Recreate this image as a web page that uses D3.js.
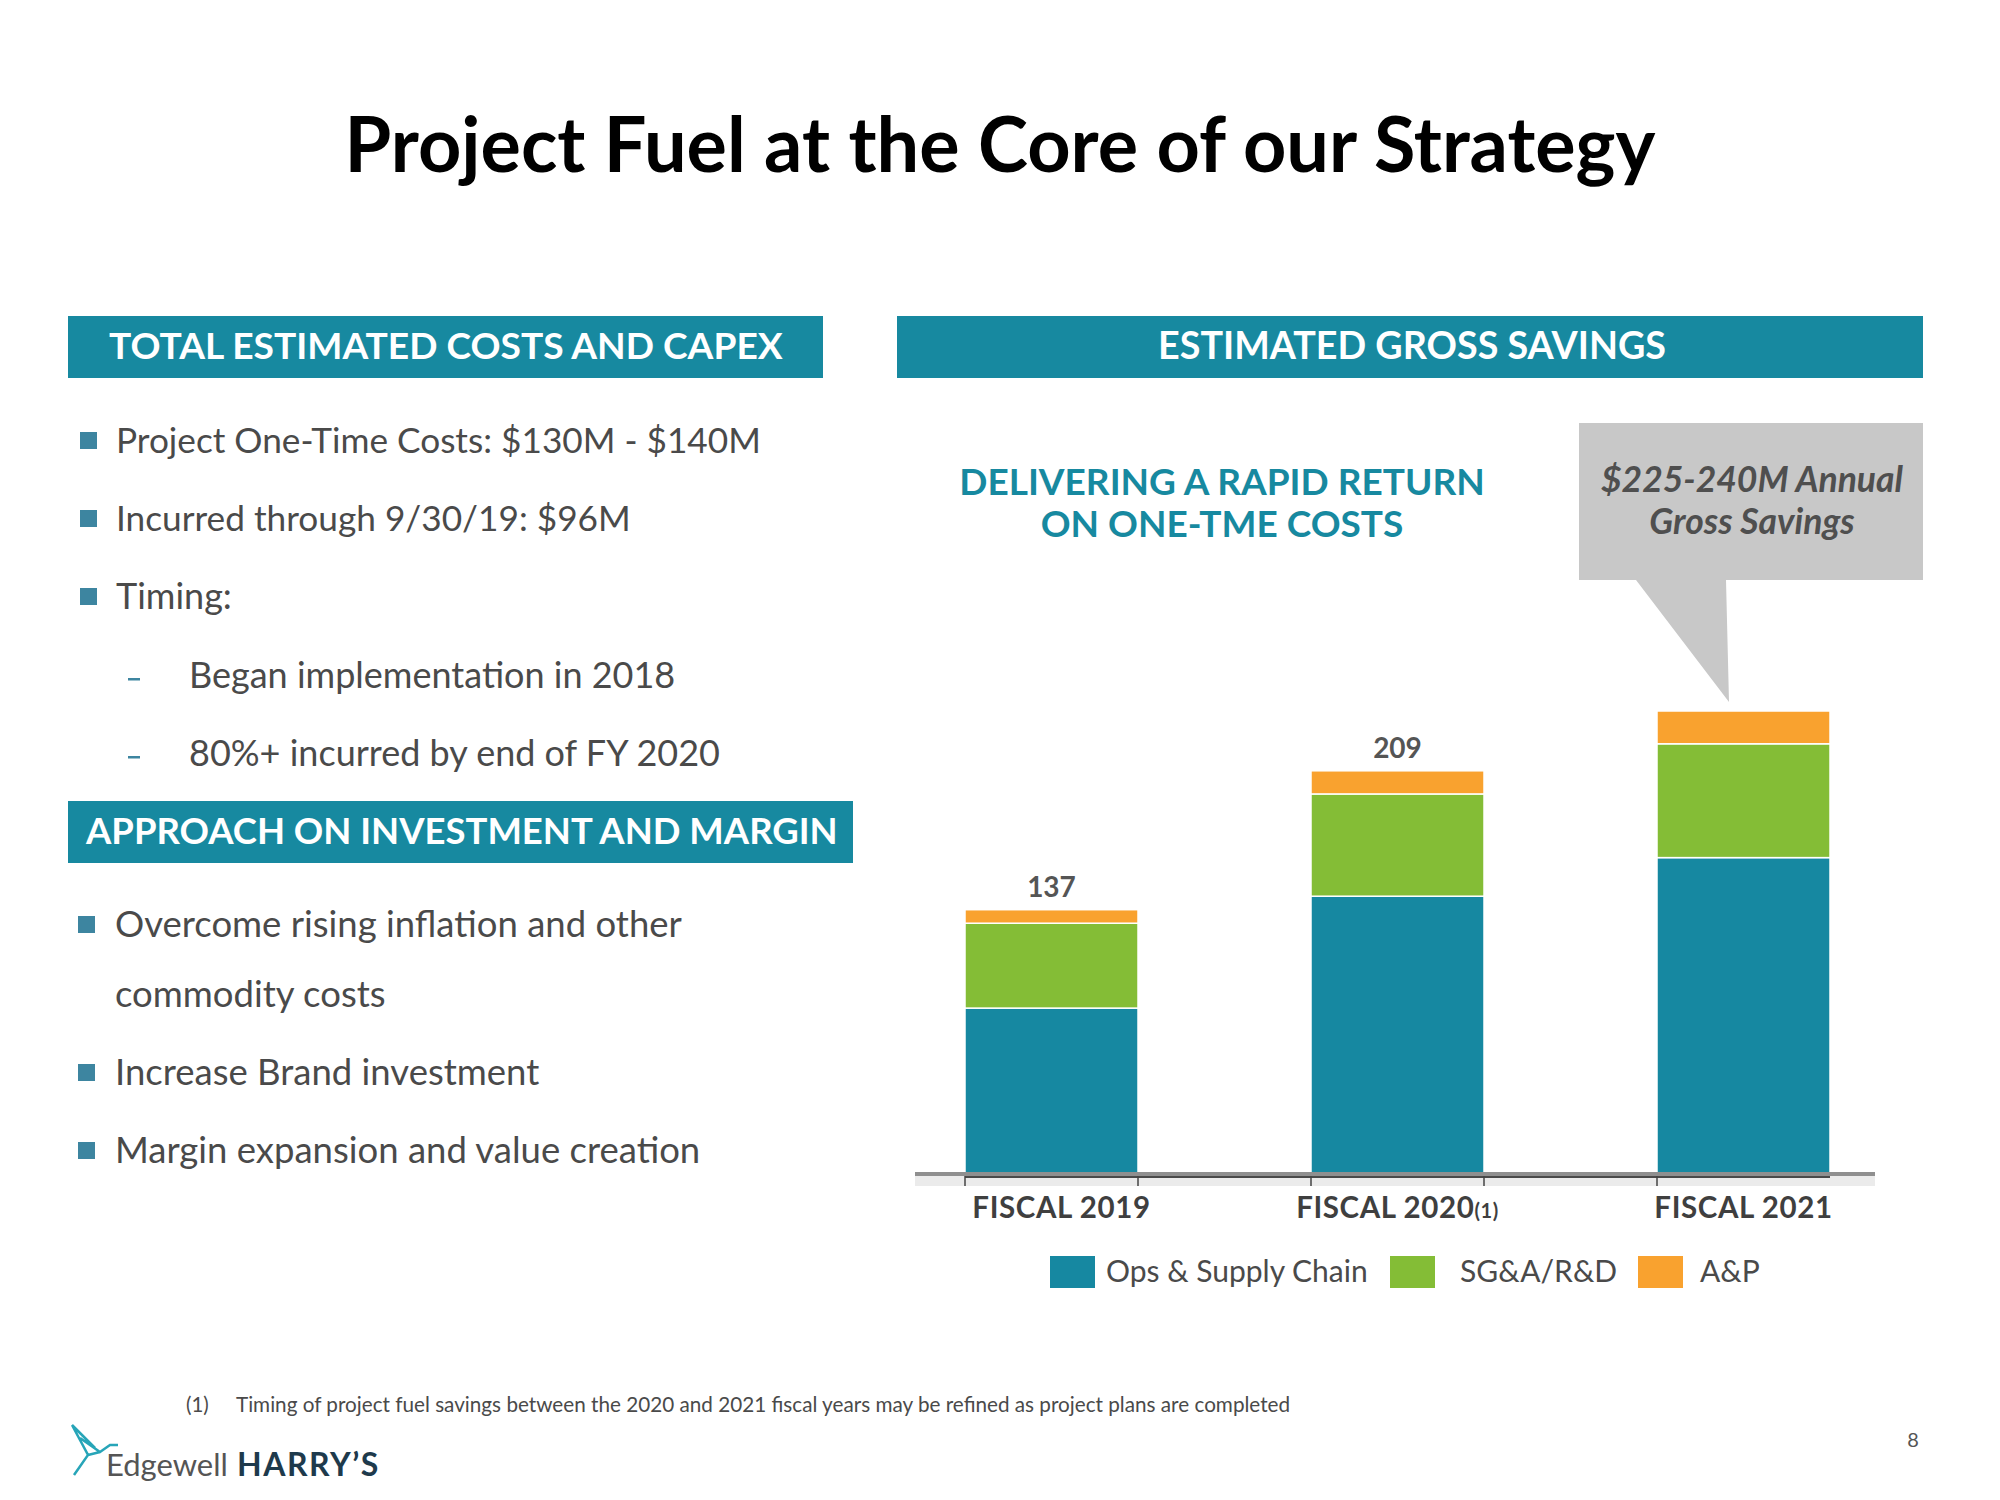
<!DOCTYPE html>
<html><head><meta charset="utf-8">
<script src="https://cdn.jsdelivr.net/npm/d3@7"></script>
<style>body{margin:0;background:#fff}svg{display:block}</style>
</head><body>
<svg id="c" width="2000" height="1500"></svg>
<script>
// ---- data ----
const categories = ["FISCAL 2019", "FISCAL 2020", "FISCAL 2021"];
const categoryNotes = ["", "(1)", ""];
const seriesNames = ["Ops & Supply Chain", "SG&A/R&D", "A&P"];
const opsSupply = [86, 144, 164];
const sgaRd = [44, 53, 59];
const aAndP = [7, 12, 17];
const totalLabels = ["137", "209", ""];
const colors = ["#1688A1", "#84BD36", "#F9A22F"];

const leftBullets1 = ["Project One-Time Costs: $130M - $140M", "Incurred through 9/30/19:  $96M", "Timing:"];
const subBullets = ["Began implementation in 2018", "80%+ incurred by end of FY 2020"];
const leftBullets2 = [["Overcome rising inflation and other", "commodity costs"], ["Increase Brand investment"], ["Margin expansion and value creation"]];

const svg = d3.select("#c");
const TEAL = "#1789A0", GRAY = "#4A4A4A", FONT = "Lato, 'Open Sans', sans-serif";

function fit(t, w){ // scale font so text width = w
  const cur = t.node().getComputedTextLength();
  const fs = parseFloat(t.attr("font-size"));
  t.attr("font-size", fs * w / cur);
  return t;
}

// title
fit(svg.append("text").attr("x", 1000).attr("y", 172).attr("text-anchor", "middle")
  .attr("font-family", FONT).attr("font-weight", 700).attr("font-size", 72).attr("fill", "#000")
  .text("Project Fuel at the Core of our Strategy"), 1311);

// header bars
function header(x, y, w, h, txt, anchor, tx, tw){
  svg.append("rect").attr("x", x).attr("y", y).attr("width", w).attr("height", h).attr("fill", TEAL);
  const t = svg.append("text").attr("x", tx).attr("y", y + h/2 + 12).attr("text-anchor", anchor)
    .attr("font-family", FONT).attr("font-weight", 700).attr("font-size", 33).attr("fill", "#fff").text(txt);
  fit(t, tw);
}
header(68, 316, 755, 62, "TOTAL ESTIMATED COSTS AND CAPEX", "start", 109, 674);
header(897, 316, 1026, 62, "ESTIMATED GROSS SAVINGS", "middle", 1412, 508);
header(68, 801, 785, 62, "APPROACH ON INVESTMENT AND MARGIN", "start", 86, 752);

// left bullets
const bw1 = [645, 515, 0];
leftBullets1.forEach((s, i) => {
  const cy = 441 + i * 78;
  svg.append("rect").attr("x", 80).attr("y", cy - 9).attr("width", 17).attr("height", 17).attr("fill", "#3D85A0");
  const t = svg.append("text").attr("x", 116).attr("y", cy + 12).attr("font-family", FONT)
    .attr("font-size", 36).attr("fill", GRAY).text(s);
  if (bw1[i]) fit(t, bw1[i]);
});
subBullets.forEach((s, i) => {
  const cy = 676 + i * 78;
  svg.append("rect").attr("x", 128).attr("y", cy + 2).attr("width", 12).attr("height", 2.5).attr("fill", "#3D85A0");
  svg.append("text").attr("x", 189).attr("y", cy + 12).attr("font-family", FONT)
    .attr("font-size", 36).attr("fill", GRAY).text(s);
});
let yy = 925;
leftBullets2.forEach((lines) => {
  svg.append("rect").attr("x", 78).attr("y", yy - 9).attr("width", 17).attr("height", 17).attr("fill", "#3D85A0");
  lines.forEach((l, j) => {
    svg.append("text").attr("x", 115).attr("y", yy + 12 + j * 70).attr("font-family", FONT)
      .attr("font-size", 36.5).attr("fill", GRAY).text(l);
  });
  yy += lines.length === 2 ? 148 : 78;
});

// delivering text
["DELIVERING A RAPID RETURN", "ON ONE-TME COSTS"].forEach((s, i) => {
  svg.append("text").attr("x", 1222).attr("y", 495 + i * 42).attr("text-anchor", "middle")
    .attr("font-family", FONT).attr("font-weight", 700).attr("font-size", 37).attr("fill", TEAL).text(s);
});

// callout
svg.append("path").attr("d", "M1579,423H1923V580H1726L1729,702L1636,580H1579Z").attr("fill", "#C8C8C8");
["$225-240M Annual", "Gross Savings"].forEach((s, i) => {
  svg.append("text").attr("x", 1752).attr("y", 492 + i * 42).attr("text-anchor", "middle")
    .attr("font-family", FONT).attr("font-weight", 700).attr("font-style", "italic")
    .attr("font-size", 35.5).attr("fill", "#4F4F4F").text(s);
});

// ---- chart ----
const x = d3.scaleBand().domain(categories).range([878.5, 1916.5]).paddingInner(0.5).paddingOuter(0.25);
const y = d3.scaleLinear().domain([0, 240]).range([1174, 711]);
const rows = categories.map((c, i) => ({cat: c, ops: opsSupply[i], sga: sgaRd[i], ap: aAndP[i]}));
const stack = d3.stack().keys(["ops", "sga", "ap"])(rows);
svg.append("g").selectAll("g").data(stack).join("g").attr("fill", (d, i) => colors[i])
  .selectAll("rect").data(d => d).join("rect")
  .attr("x", d => x(d.data.cat)).attr("width", x.bandwidth())
  .attr("y", d => y(d[1])).attr("height", d => y(d[0]) - y(d[1]))
  .attr("stroke", "#fff").attr("stroke-width", 1.5);

// axis
svg.append("rect").attr("x", 915).attr("y", 1176).attr("width", 960).attr("height", 10).attr("fill", "#EBEBEB");
svg.append("line").attr("x1", 915).attr("x2", 1875).attr("y1", 1174).attr("y2", 1174).attr("stroke", "#8F8F8F").attr("stroke-width", 4);
const edges = [];
categories.forEach(c => { edges.push(x(c)); edges.push(x(c) + x.bandwidth()); });
svg.append("line").attr("x1", edges[0]).attr("x2", edges[5]).attr("y1", 1177).attr("y2", 1177).attr("stroke", "#4A4A4A").attr("stroke-width", 2);
svg.append("g").selectAll("line").data(edges.slice(0, 5)).join("line")
  .attr("x1", d => d).attr("x2", d => d).attr("y1", 1176).attr("y2", 1186).attr("stroke", "#444").attr("stroke-width", 1.5);

// category labels
const labelShift = [10, 0, 0];
categories.forEach((c, i) => {
  const t = svg.append("text").attr("x", x(c) + x.bandwidth()/2 + labelShift[i]).attr("y", 1218)
    .attr("text-anchor", "middle").attr("font-family", FONT).attr("font-weight", 700)
    .attr("font-size", 29.5).attr("fill", "#3F3F3F").attr("letter-spacing", 0.6);
  t.append("tspan").text(c);
  if (categoryNotes[i]) t.append("tspan").attr("font-size", 20).text(categoryNotes[i]);
});

// totals
rows.forEach((r, i) => {
  if (!totalLabels[i]) return;
  svg.append("text").attr("x", x(r.cat) + x.bandwidth()/2).attr("y", y(r.ops + r.sga + r.ap) - 13)
    .attr("text-anchor", "middle").attr("font-family", FONT).attr("font-weight", 700)
    .attr("font-size", 28).attr("fill", "#555").text(totalLabels[i]);
});

// legend
const legX = [1050, 1390, 1638], legTX = [1106, 1460, 1700];
seriesNames.forEach((s, i) => {
  svg.append("rect").attr("x", legX[i]).attr("y", 1256).attr("width", 45).attr("height", 32).attr("fill", colors[i]);
  svg.append("text").attr("x", legTX[i]).attr("y", 1282).attr("font-family", FONT)
    .attr("font-size", 30).attr("fill", GRAY).text(s);
});

// footnote
svg.append("text").attr("x", 186).attr("y", 1412).attr("font-family", FONT).attr("font-size", 20.5).attr("fill", GRAY).text("(1)");
svg.append("text").attr("x", 236).attr("y", 1412).attr("font-family", FONT).attr("font-size", 20.7).attr("fill", GRAY)
  .text("Timing of project fuel savings between the 2020 and 2021 fiscal years may be refined as project plans are completed");

// logo
svg.append("path").attr("d", "M72,1425L88,1455L74,1475M72,1425L95,1448M80,1438L100,1452L110,1445L118,1445M88,1455L100,1452")
  .attr("fill", "none").attr("stroke", "#27A5B8").attr("stroke-width", 2.5);
svg.append("text").attr("x", 106).attr("y", 1476).attr("font-family", FONT).attr("font-size", 31).attr("fill", "#555").text("Edgewell");
svg.append("text").attr("x", 237).attr("y", 1476).attr("font-family", FONT).attr("font-weight", 700).attr("font-size", 32)
  .attr("fill", "#1E3A4C").attr("letter-spacing", 1.5).text("HARRY’S");
svg.append("text").attr("x", 1913).attr("y", 1447).attr("text-anchor", "middle").attr("font-family", FONT)
  .attr("font-size", 20).attr("fill", "#555").text("8");
</script>
</body></html>
